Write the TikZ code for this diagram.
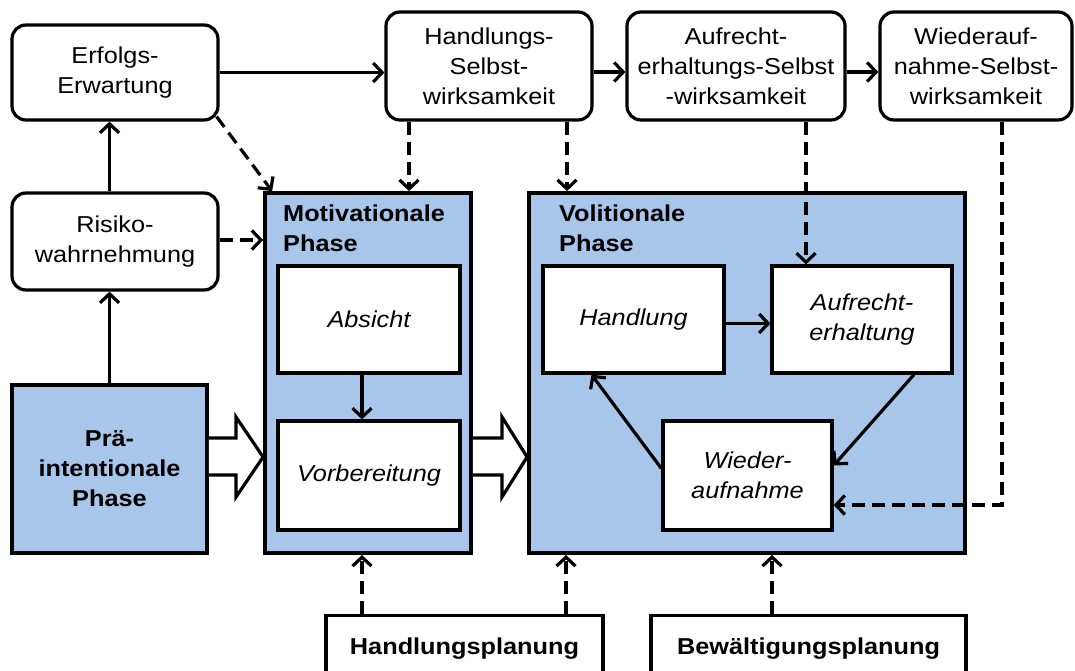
\documentclass[tikz,border=0pt]{standalone}
\usepackage{fontspec}
\setmainfont[FakeStretch=1.1]{Liberation Sans}
\usetikzlibrary{arrows.meta,calc}
\definecolor{phaseblue}{RGB}{168,198,234}
\begin{document}
\begin{tikzpicture}[x=1pt,y=-1pt,
  font=\fontsize{23}{30}\selectfont,
  rbox/.style={draw, line width=3.2pt, rounded corners=14pt, fill=white, align=center, inner sep=0pt},
  sbox/.style={draw, line width=3.2pt, fill=white, align=center, inner sep=0pt, font=\fontsize{23}{30}\selectfont\itshape},
  phasebox/.style={draw, line width=3.8pt, fill=phaseblue, inner sep=0pt},
  planbox/.style={draw, line width=3.2pt, fill=white, inner ysep=8pt, text height=31pt, text depth=40pt, font=\fontsize{23}{30}\selectfont\bfseries},
  phaselabel/.style={anchor=north west, align=left, inner sep=0pt, font=\fontsize{23}{30}\selectfont\bfseries},
  arr/.style={line width=3.2pt, -{Straight Barb[length=9pt,width=19pt]}},
  darr/.style={arr, dash pattern=on 13pt off 7pt},
  fatarrow/.style={line width=3.2pt, fill=white, line join=miter}
]
\useasboundingbox (0,0) rectangle (1075,670);
\clip (0,0) rectangle (1075,670);

% top row
\node[rbox, minimum width=206pt, minimum height=95pt] (erf) at (115,72.5) {Erfolgs-\\Erwartung};
\node[rbox, minimum width=206pt, minimum height=108pt] (hse) at (489,66) {Handlungs-\\Selbst-\\wirksamkeit};
\node[rbox, minimum width=218pt, minimum height=108pt] (aufo) at (736,66) {Aufrecht-\\erhaltungs-Selbst\\-wirksamkeit};
\node[rbox, minimum width=192pt, minimum height=108pt] (wtop) at (976,66) {Wiederauf-\\nahme-Selbst-\\wirksamkeit};
\node[rbox, minimum width=206pt, minimum height=97pt] (ris) at (115,241.5) {Risiko-\\wahrnehmung};

% phases
\node[phasebox, minimum width=195pt, minimum height=168pt, align=center, font=\fontsize{23}{30}\selectfont\bfseries] (pre) at (109.5,469) {Prä-\\intentionale\\Phase};
\node[phasebox, minimum width=206pt, minimum height=360pt] (motiv) at (368,373) {};
\node[phasebox, minimum width=436pt, minimum height=360pt] (vol) at (747,373) {};
\node[phaselabel] (motlab) at (283,205) {Motivationale\\Phase};
\node[phaselabel] (vollab) at (559,205) {Volitionale\\Phase};

% inner boxes
\node[sbox, minimum width=182pt, minimum height=107pt] (abs) at (369,319.5) {Absicht};
\node[sbox, minimum width=182pt, minimum height=109pt] (vor) at (369,475.5) {Vorbereitung};
\node[sbox, minimum width=181pt, minimum height=107pt] (hand) at (633.5,319.5) {Handlung};
\node[sbox, minimum width=180pt, minimum height=107pt] (aufi) at (862,319.5) {Aufrecht-\\erhaltung};
\node[sbox, minimum width=169pt, minimum height=109pt] (win) at (747.5,475.5) {Wieder-\\aufnahme};

% planning boxes
\node[planbox, minimum width=277pt, anchor=north] (hp) at (464.5,614) {Handlungsplanung};
\node[planbox, minimum width=315pt, anchor=north] (bp) at (808.5,614) {Bewältigungsplanung};

% fat arrows
\path[fatarrow, draw] (pre.east |- 0,438) -- (236,438) -- (236,417) -- (motiv.west |- 0,457) -- (236,497) -- (236,475) -- (pre.east |- 0,475);
\path[fatarrow, draw] (motiv.east |- 0,438) -- (502,438) -- (502,417) -- (vol.west |- 0,457) -- (502,497) -- (502,475) -- (motiv.east |- 0,475);

% solid arrows
\draw[arr] (pre.north) -- (pre.north |- ris.south);
\draw[arr] (pre.north |- ris.north) -- (pre.north |- erf.south);
\draw[arr] (erf.east) -- (erf.east -| hse.west);
\draw[arr] ([yshift=-6pt]hse.east) -- ([yshift=-6pt]aufo.west);
\draw[arr] ([yshift=-6pt]aufo.east) -- ([yshift=-6pt]wtop.west);
\draw[arr] ([xshift=-7pt]abs.south) -- ([xshift=-7pt]vor.north);
\draw[arr] ([yshift=-4pt]hand.east) -- ([yshift=-4pt]aufi.west);
\draw[arr] ([xshift=52pt]aufi.south) -- ([yshift=10pt]win.east);
\draw[arr] ([yshift=7pt]win.west) -- ([xshift=-42pt]hand.south);

% dashed arrows
\draw[darr] ([xshift=-3pt,yshift=5pt]erf.south east) -- ([xshift=9pt]motiv.north west);
\draw[darr] ([yshift=1.5pt]ris.east) -- ([yshift=1.5pt]ris.east -| motiv.west);
\draw[darr] ([xshift=-80pt]hse.south) -- ([xshift=-80pt]hse.south |- motiv.north);
\draw[darr] ([xshift=78pt]hse.south) -- ([xshift=78pt]hse.south |- vol.north);
\draw[darr] ([xshift=70pt]aufo.south) -- ([xshift=70pt]aufo.south |- aufi.north);
\draw[darr] ([xshift=26pt]wtop.south) |- ([yshift=-29.5pt]win.east);
\draw[darr] ([xshift=-102.5pt]hp.north) -- ([xshift=-102.5pt]hp.north |- motiv.south);
\draw[darr] ([xshift=101.5pt]hp.north) -- ([xshift=101.5pt]hp.north |- vol.south);
\draw[darr] ([xshift=-36.5pt]bp.north) -- ([xshift=-36.5pt]bp.north |- vol.south);
\end{tikzpicture}
\end{document}
